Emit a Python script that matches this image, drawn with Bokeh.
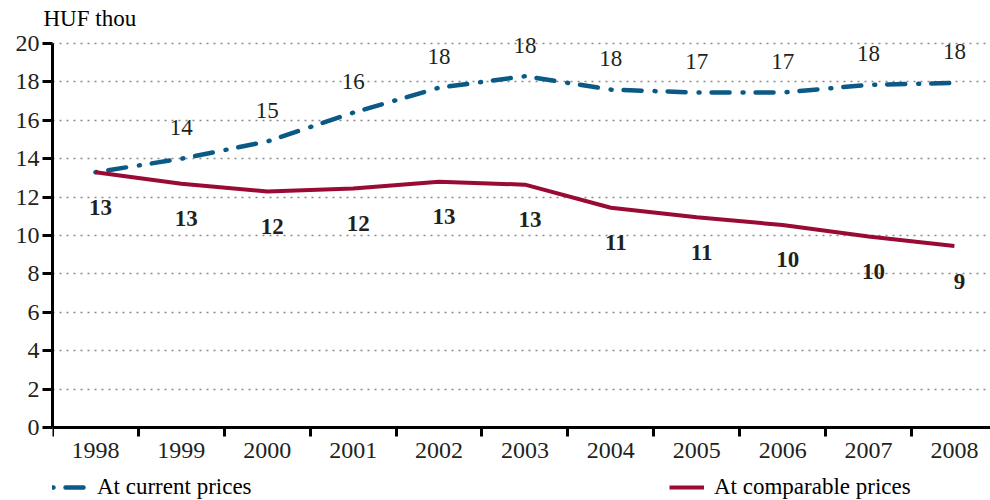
from bokeh.plotting import figure
from bokeh.models import (Range1d, FixedTicker, ColumnDataSource, Legend, LegendItem,
                          LabelSet, Title)
from bokeh.embed import file_html
from bokeh.resources import INLINE

years = ["1998", "1999", "2000", "2001", "2002", "2003", "2004", "2005", "2006", "2007", "2008"]
current_prices = [13.3, 14.0, 14.9, 16.4, 17.7, 18.3, 17.6, 17.45, 17.45, 17.85, 17.95]
comparable_prices = [13.3, 12.7, 12.3, 12.45, 12.8, 12.65, 11.45, 10.95, 10.55, 9.95, 9.45]
current_labels = ["", "14", "15", "16", "18", "18", "18", "17", "17", "18", "18"]
comparable_labels = ["13", "13", "12", "12", "13", "13", "11", "11", "10", "10", "9"]
y_ticks = [0, 2, 4, 6, 8, 10, 12, 14, 16, 18, 20]

BLUE = "#0a5a85"
RED = "#990a35"
TXT = "#231f20"
FONT = "Times New Roman"

xs = [i + 0.5 for i in range(len(years))]
src = ColumnDataSource(dict(x=xs, cur=current_prices, comp=comparable_prices,
                            cl=current_labels, pl=comparable_labels))

p = figure(width=990, height=500, output_backend="svg", toolbar_location=None,
           x_range=Range1d(0, 10.92), y_range=Range1d(-3.8, 20.68),
           min_border_left=52, min_border_right=0, min_border_top=30, min_border_bottom=0)
p.outline_line_color = None
p.background_fill_color = "white"
p.title.visible = False

t = Title(text="HUF thou", align="left", offset=-9, standoff=0, text_font=FONT,
          text_font_size="23px", text_font_style="normal", text_color="black")
p.add_layout(t, "above")

# axes
p.xaxis.fixed_location = 0
p.xaxis.ticker = FixedTicker(ticks=xs, minor_ticks=list(range(len(years) + 1)))
p.xaxis.major_label_overrides = {x: y for x, y in zip(xs, years)}
p.xaxis.major_tick_out = 0
p.xaxis.major_tick_in = 0
p.xaxis.minor_tick_out = 9
p.xaxis.minor_tick_in = 0
p.xaxis.minor_tick_line_width = 3
p.xaxis.minor_tick_line_color = "black"
p.xaxis.axis_line_width = 3
p.xaxis.axis_line_color = "black"
p.xaxis.major_label_text_font = FONT
p.xaxis.major_label_text_font_size = "24px"
p.xaxis.major_label_text_color = TXT
p.xaxis.major_label_standoff = 6

p.yaxis.ticker = FixedTicker(ticks=y_ticks, minor_ticks=[])
p.yaxis.bounds = (0, 20)
p.yaxis.axis_line_width = 3
p.yaxis.axis_line_color = "black"
p.yaxis.major_tick_out = 10
p.yaxis.major_tick_in = 0
p.yaxis.major_tick_line_width = 3
p.yaxis.major_tick_line_color = "black"
p.yaxis.minor_tick_line_color = None
p.yaxis.major_label_text_font = FONT
p.yaxis.major_label_text_font_size = "24px"
p.yaxis.major_label_text_color = TXT
p.yaxis.major_label_standoff = 3

p.xgrid.grid_line_color = None
p.ygrid.grid_line_color = "#8a8a8a"
p.ygrid.grid_line_dash = "2 5"
p.ygrid.grid_line_width = 1.5

r_cur = p.line("x", "cur", source=src, line_color=BLUE, line_width=4.5,
               line_dash="18 13 1 12", line_dash_offset=31, line_cap="round")
r_comp = p.line("x", "comp", source=src, line_color=RED, line_width=4)

p.add_layout(LabelSet(x="x", y="cur", text="cl", source=src, text_align="center",
                      text_baseline="middle", y_offset=31, text_font=FONT,
                      text_font_size="23px", text_color=TXT))
p.add_layout(LabelSet(x="x", y="comp", text="pl", source=src, text_align="center",
                      text_baseline="middle", x_offset=5, y_offset=-35, text_font=FONT,
                      text_font_size="23px", text_font_style="bold", text_color=TXT))

common = dict(orientation="horizontal", padding=0, margin=0, border_line_color=None,
              background_fill_alpha=0, label_text_font=FONT, label_text_font_size="23px",
              label_text_color="black", glyph_width=35, glyph_height=20, label_standoff=10,
              label_height=24)
leg1 = Legend(items=[LegendItem(label="At current prices", renderers=[r_cur])],
              location=(0, 0), **common)
leg2 = Legend(items=[LegendItem(label="At comparable prices", renderers=[r_comp])],
              location=(617, 0), **common)
p.add_layout(leg1, "center")
p.add_layout(leg2, "center")

open("out.html", "w").write(file_html(p, INLINE))
